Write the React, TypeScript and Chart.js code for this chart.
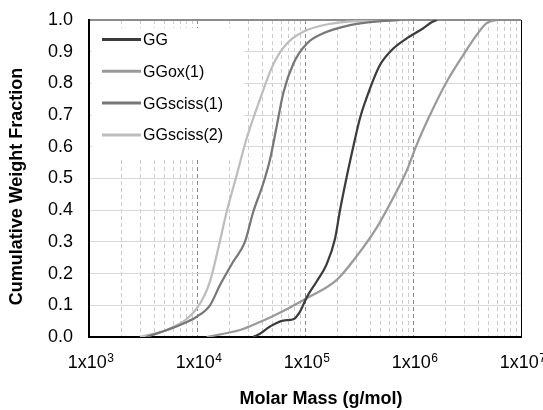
import React, { useEffect, useRef } from "react";
import { Chart, registerables } from "chart.js";

Chart.register(...registerables);

// ---------- data ----------
const seriesNames = ["GG", "GGox(1)", "GGsciss(1)", "GGsciss(2)"];
const seriesColors = ["#3c3c3c", "#9a9a9a", "#777777", "#bdbdbd"];

const ggMass = [33040, 38280, 47430, 62950, 77980, 89950, 103700, 128200, 158800, 189700, 210900, 243200, 279900, 322800, 399900, 494300, 657700, 874900, 1245000, 1489000, 1667000];
const ggFrac = [0, 0.01, 0.033, 0.052, 0.056, 0.08, 0.125, 0.175, 0.23, 0.31, 0.4, 0.505, 0.6, 0.69, 0.784, 0.858, 0.91, 0.942, 0.974, 0.993, 1.0];

const ggoxMass = [12300, 25000, 30970, 50820, 103700, 196800, 301300, 461300, 657700, 874900, 1081000, 1436000, 2051000, 2924000, 3890000, 4808000, 5957000];
const ggoxFrac = [0, 0.022, 0.034, 0.066, 0.122, 0.18, 0.255, 0.345, 0.44, 0.525, 0.606, 0.7, 0.805, 0.89, 0.953, 0.99, 1.0];

const sciss1Mass = [3420, 6970, 9940, 13180, 16330, 21670, 27800, 33190, 41110, 47430, 54700, 62950, 77980, 103700, 147600, 261200, 527200, 758600];
const sciss1Frac = [0, 0.038, 0.064, 0.1, 0.164, 0.238, 0.3, 0.395, 0.485, 0.56, 0.665, 0.77, 0.862, 0.925, 0.958, 0.984, 0.997, 1.0];

const sciss2Mass = [2965, 5623, 9940, 13180, 15740, 18840, 23330, 28840, 38280, 50820, 67720, 96400, 170200, 344400, 494300];
const sciss2Frac = [0, 0.027, 0.09, 0.175, 0.28, 0.395, 0.511, 0.627, 0.75, 0.86, 0.925, 0.963, 0.988, 0.998, 1.0];

const decadeTicks = [1e3, 1e4, 1e5, 1e6, 1e7];
const decadeBase = ["1x10", "1x10", "1x10", "1x10", "1x10"];
const decadeExponents = ["3", "4", "5", "6", "7"];
const minorMultipliers = [2, 3, 4, 5, 6, 7, 8, 9];

const xTitle = "Molar Mass (g/mol)";
const yTitle = "Cumulative Weight Fraction";

const FONT = '"Liberation Sans", Arial, sans-serif';

const massSets = [ggMass, ggoxMass, sciss1Mass, sciss2Mass];
const fracSets = [ggFrac, ggoxFrac, sciss1Frac, sciss2Frac];

function isDecade(v: number) {
  return decadeTicks.some((d) => Math.abs(v - d) / d < 1e-9);
}

const overlayPlugin = {
  id: "overlay",
  beforeDatasetsDraw(chart: any) {
    const { ctx, chartArea } = chart;
    ctx.save();
    ctx.fillStyle = "#ffffff";
    ctx.fillRect(chartArea.left + 3, chartArea.top + 8, 152, 129);
    ctx.font = `16px ${FONT}`;
    ctx.textBaseline = "middle";
    ctx.textAlign = "left";
    seriesNames.forEach((name, i) => {
      const y = chartArea.top + 19.5 + i * 31.8;
      ctx.strokeStyle = seriesColors[i];
      ctx.lineWidth = 3;
      ctx.beginPath();
      ctx.moveTo(chartArea.left + 13, y);
      ctx.lineTo(chartArea.left + 52, y);
      ctx.stroke();
      ctx.fillStyle = "#000000";
      ctx.fillText(name, chartArea.left + 54, y + 1);
    });
    ctx.restore();
  },
  afterDraw(chart: any) {
    const { ctx, chartArea } = chart;
    const xScale = chart.scales.x;
    ctx.save();
    ctx.fillStyle = "#000000";
    // x tick labels with superscript exponents
    ctx.textBaseline = "alphabetic";
    ctx.textAlign = "left";
    const baseY = chartArea.bottom + 31;
    decadeTicks.forEach((d, i) => {
      const px = xScale.getPixelForValue(d);
      ctx.font = `18px ${FONT}`;
      const wBase = ctx.measureText(decadeBase[i]).width;
      ctx.font = `12px ${FONT}`;
      const wExp = ctx.measureText(decadeExponents[i]).width;
      const start = px + 1.5 - (wBase + wExp) / 2;
      ctx.font = `18px ${FONT}`;
      ctx.fillText(decadeBase[i], start, baseY);
      ctx.font = `12px ${FONT}`;
      ctx.fillText(decadeExponents[i], start + wBase + 0.5, baseY - 6.5);
    });
    // axis titles
    ctx.font = `bold 18px ${FONT}`;
    ctx.textAlign = "center";
    ctx.textBaseline = "middle";
    ctx.fillText(xTitle, (chartArea.left + chartArea.right) / 2 + 16, chartArea.bottom + 62);
    ctx.translate(17, (chartArea.top + chartArea.bottom) / 2 + 8);
    ctx.rotate(-Math.PI / 2);
    ctx.fillText(yTitle, 0, 0);
    ctx.restore();
  },
};

export default function App() {
  const canvasRef = useRef<HTMLCanvasElement | null>(null);

  useEffect(() => {
    if (!canvasRef.current) return;
    const datasets = seriesNames.map((name, i) => ({
      label: name,
      data: massSets[i].map((m, j) => ({ x: m, y: fracSets[i][j] })),
      borderColor: seriesColors[i],
      backgroundColor: seriesColors[i],
      borderWidth: 2.25,
      pointRadius: 0,
      fill: false,
      cubicInterpolationMode: "monotone" as const,
    }));

    const gridValues: number[] = [];
    decadeTicks.forEach((d, i) => {
      gridValues.push(d);
      if (i < decadeTicks.length - 1) minorMultipliers.forEach((k) => gridValues.push(d * k));
    });

    const chart = new Chart(canvasRef.current, {
      type: "line",
      data: { datasets },
      options: {
        animation: false,
        responsive: false,
        devicePixelRatio: 1,
        layout: { padding: { top: 20, right: 22, left: 0, bottom: 0 } },
        plugins: {
          legend: { display: false },
          tooltip: { enabled: false },
        },
        scales: {
          x: {
            type: "logarithmic",
            min: 1e3,
            max: 1e7,
            afterBuildTicks: (scale: any) => {
              scale.ticks = gridValues.map((v) => ({ value: v, major: isDecade(v) }));
            },
            afterFit: (scale: any) => {
              scale.height = 73;
              scale.paddingLeft = 0;
              scale.paddingRight = 0;
            },
            ticks: { display: false, autoSkip: false, maxRotation: 0 },
            grid: {
              drawTicks: false,
              lineWidth: 1,
              color: (ctx: any) => {
                const v = ctx.tick ? ctx.tick.value : 0;
                if (Math.abs(v - 1e7) < 1) return "#000000";
                return isDecade(v) ? "#8a8a8a" : "#cccccc";
              },
            },
            border: {
              display: true,
              color: "#000000",
              width: 2,
              dash: (ctx: any) => {
                if (!ctx.tick) return [];
                return Math.abs(ctx.tick.value - 1e7) < 1 ? [] : [4, 3];
              },
            },
          },
          y: {
            type: "linear",
            min: 0,
            max: 1,
            afterFit: (scale: any) => {
              scale.width = 89;
              scale.paddingTop = 0;
              scale.paddingBottom = 0;
            },
            ticks: {
              stepSize: 0.1,
              padding: 16,
              color: "#000000",
              font: { family: FONT, size: 18 },
              callback: (value: any) => Number(value).toFixed(1),
            },
            grid: {
              drawTicks: false,
              lineWidth: (ctx: any) => (ctx.tick && Math.abs(ctx.tick.value - 1) < 1e-6 ? 2 : 1),
              color: (ctx: any) =>
                ctx.tick && Math.abs(ctx.tick.value - 1) < 1e-6 ? "#8c8c8c" : "#d9d9d9",
            },
            border: { display: true, color: "#000000", width: 2 },
          },
        },
      },
      plugins: [overlayPlugin],
    });

    return () => chart.destroy();
  }, []);

  return (
    <div
      style={{
        position: "absolute",
        left: 0,
        top: 0,
        width: 543,
        height: 410,
        background: "#ffffff",
        overflow: "hidden",
      }}
    >
      <canvas ref={canvasRef} width={543} height={410} style={{ width: 543, height: 410 }} />
    </div>
  );
}
